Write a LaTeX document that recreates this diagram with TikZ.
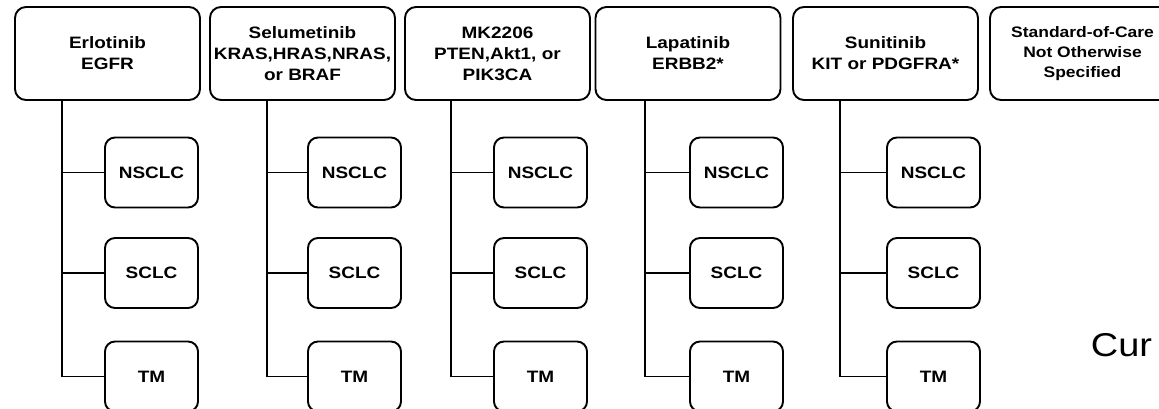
\documentclass[tikz,border=0pt]{standalone}
\usepackage{fontspec}
\usepackage{tikz}
\newfontfamily\boxfont[FakeStretch=1.15]{Liberation Sans}

\begin{document}
\begin{tikzpicture}[x=1pt, y=-1pt, line width=1.9pt,
    drug/.style={rectangle, draw, rounded corners=11pt, minimum width=185pt, minimum height=93pt, align=center, inner sep=2pt, font=\boxfont\bfseries\fontsize{16.5}{21}\selectfont},
    arm/.style={rectangle, draw, rounded corners=10pt, minimum width=93pt, minimum height=70pt, inner sep=2pt, font=\boxfont\bfseries\fontsize{16.5}{20}\selectfont},
    note/.style={inner sep=0pt, font=\boxfont\fontsize{33}{39}\selectfont}]

    \useasboundingbox (0,0) rectangle (1159,408);
    \clip (0,0) rectangle (1159,408);

    % Row 1: Drugs and targets
    \node[drug] (D1) at (107.5,53.5) {Erlotinib\\EGFR};
    \node[drug] (D2) at (302.5,53.5) {Selumetinib\\KRAS,HRAS,NRAS,\\or BRAF};
    \node[drug] (D3) at (497.5,53.5) {MK2206\\PTEN,Akt1, or\\PIK3CA};
    \node[drug] (D4) at (688,53.5) {Lapatinib\\ERBB2*};
    \node[drug] (D5) at (885.5,53.5) {Sunitinib\\KIT or PDGFRA*};
    \node[drug, font=\boxfont\bfseries\fontsize{15.2}{20}\selectfont] (D6) at (1082.5,53.5) {Standard-of-Care\\Not Otherwise\\Specified};

    % Row 2: NSCLC
    \node[arm] (N1) at (151.5,172.5) {NSCLC};
    \node[arm] (N2) at (354.5,172.5) {NSCLC};
    \node[arm] (N3) at (540.5,172.5) {NSCLC};
    \node[arm] (N4) at (736.5,172.5) {NSCLC};
    \node[arm] (N5) at (933.5,172.5) {NSCLC};

    % Row 3: SCLC
    \node[arm] (S1) at (151.5,273) {SCLC};
    \node[arm] (S2) at (354.5,273) {SCLC};
    \node[arm] (S3) at (540.5,273) {SCLC};
    \node[arm] (S4) at (736.5,273) {SCLC};
    \node[arm] (S5) at (933.5,273) {SCLC};

    % Row 4: TM
    \node[arm] (T1) at (151.5,376.5) {TM};
    \node[arm] (T2) at (354.5,376.5) {TM};
    \node[arm] (T3) at (540.5,376.5) {TM};
    \node[arm] (T4) at (736.5,376.5) {TM};
    \node[arm] (T5) at (933.5,376.5) {TM};

    \node[note, anchor=base west] (CUR) at (1090,356) {Cur};

    % Trunks
    \coordinate (V1) at (D1.south -| 62,0);
    \coordinate (V2) at (D2.south -| 267,0);
    \coordinate (V3) at (D3.south -| 451,0);
    \coordinate (V4) at (D4.south -| 645,0);
    \coordinate (V5) at (D5.south -| 840,0);

    \draw (V1) |- (T1.west);
    \draw (V2) |- (T2.west);
    \draw (V3) |- (T3.west);
    \draw (V4) |- (T4.west);
    \draw (V5) |- (T5.west);

    % Branches
    \draw (N1.west) -- (N1.west -| V1);
    \draw (S1.west) -- (S1.west -| V1);
    \draw (N2.west) -- (N2.west -| V2);
    \draw (S2.west) -- (S2.west -| V2);
    \draw (N3.west) -- (N3.west -| V3);
    \draw (S3.west) -- (S3.west -| V3);
    \draw (N4.west) -- (N4.west -| V4);
    \draw (S4.west) -- (S4.west -| V4);
    \draw (N5.west) -- (N5.west -| V5);
    \draw (S5.west) -- (S5.west -| V5);
\end{tikzpicture}
\end{document}
